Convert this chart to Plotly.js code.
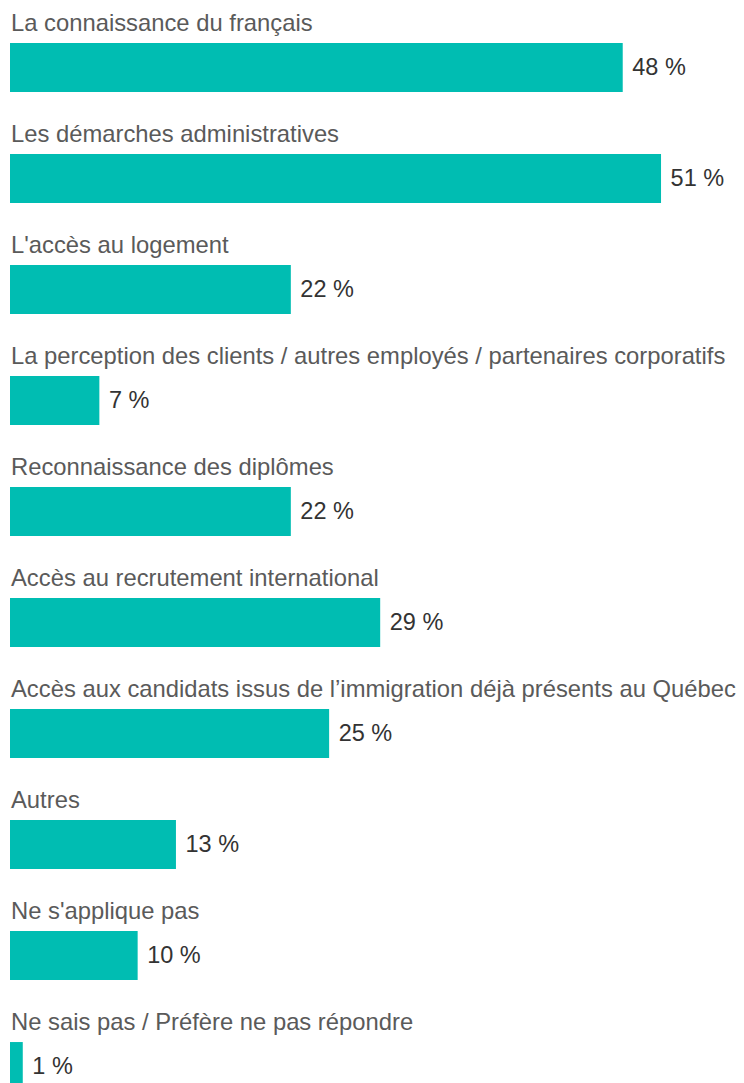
<!DOCTYPE html>
<html>
<head>
<meta charset="utf-8">
<script src="https://cdn.plot.ly/plotly-3.0.1.min.js"></script>
<style>
  html, body { margin: 0; padding: 0; background: #ffffff; }
  #chart { width: 744px; height: 1083px; }
</style>
</head>
<body>
<div id="chart"></div>
<script>
const categories = [
  "La connaissance du français",
  "Les démarches administratives",
  "L'accès au logement",
  "La perception des clients / autres employés / partenaires corporatifs",
  "Reconnaissance des diplômes",
  "Accès au recrutement international",
  "Accès aux candidats issus de l’immigration déjà présents au Québec",
  "Autres",
  "Ne s'applique pas",
  "Ne sais pas / Préfère ne pas répondre"
];
const values = [48, 51, 22, 7, 22, 29, 25, 13, 10, 1];

const FONT = "'Liberation Sans', Arial, sans-serif";
const BAR_COLOR = "#00BDB2";

const trace = {
  type: "bar",
  orientation: "h",
  x: values,
  y: categories,
  marker: { color: BAR_COLOR, line: { width: 0 } },
  width: 0.44,
  texttemplate: "\u00A0%{x}\u00A0%",
  textposition: "outside",
  constraintext: "none",
  cliponaxis: false,
  outsidetextfont: { family: FONT, size: 23.5, color: "#333333" },
  hoverinfo: "skip"
};

const annotations = categories.map(c => ({
  x: 0, xref: "x", y: c, yref: "y",
  xanchor: "left", yanchor: "middle",
  yshift: 44.5, xshift: -1,
  text: c, showarrow: false,
  font: { family: FONT, size: 23.8, color: "#5a5a5a" }
}));

const layout = {
  width: 744, height: 1083,
  margin: { l: 10, r: 0, t: 0, b: 0, pad: 0 },
  paper_bgcolor: "#ffffff", plot_bgcolor: "#ffffff",
  showlegend: false,
  xaxis: { range: [0, 57.5], visible: false, showgrid: false, zeroline: false, fixedrange: true },
  yaxis: { type: "category", range: [9.149, -0.608], visible: false, showgrid: false, zeroline: false, fixedrange: true },
  annotations: annotations
};

Plotly.newPlot("chart", [trace], layout, { displayModeBar: false, staticPlot: true });
</script>
</body>
</html>
